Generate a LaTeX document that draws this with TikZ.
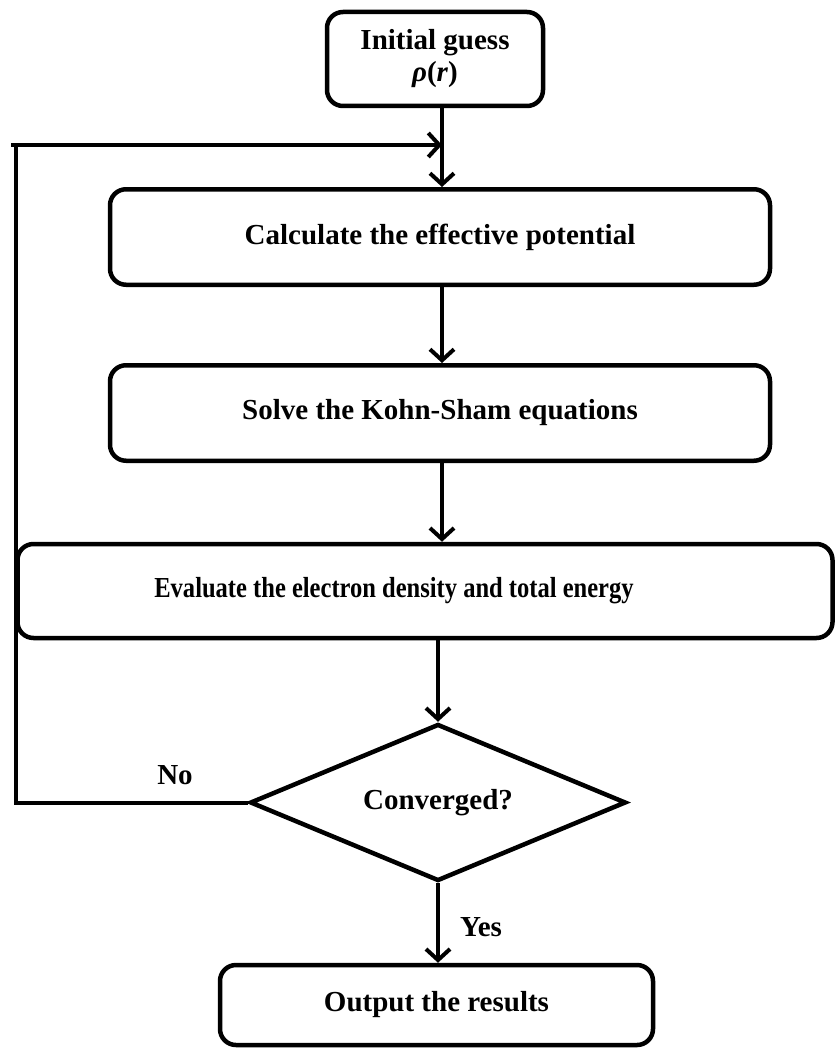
\documentclass[tikz,border=0pt]{standalone}
\usepackage{fontspec}
\setmainfont{Liberation Serif}
\usetikzlibrary{shapes.geometric,arrows.meta}
\begin{document}
\begin{tikzpicture}[x=1pt,y=-1pt,
  every node/.style={font=\fontsize{29}{33}\selectfont\bfseries},
  procbox/.style={draw,line width=4.5pt,rounded corners=16pt,inner sep=0pt},
  decide/.style={draw,diamond,line width=4.5pt,aspect=2.36,inner sep=0pt,minimum width=376pt,minimum height=157pt},
  flow/.style={line width=4pt,-{Straight Barb[length=11pt,width=24pt,line width=4pt]}},
  plain/.style={line width=4pt,line join=miter}]
\useasboundingbox (0,0) rectangle (835,1051);
\node[procbox,minimum width=216pt,minimum height=94pt,align=center] (init) at (435,59) {Initial guess\\[-1pt]\textit{ρ}(\textit{r})};
\node[procbox,minimum width=660pt,minimum height=95.5pt] (calc) at (440,237) {Calculate the effective potential};
\node[procbox,minimum width=660pt,minimum height=95.5pt] (solve) at (440,413) {Solve the Kohn-Sham equations};
\node[procbox,minimum width=815pt,minimum height=94pt] (eval) at (425,591) {\scalebox{0.846}[1]{Evaluate the electron density and total energy}\kern62pt\relax};
\node[decide] (dia) at (438,802.5) {Converged?};
\node[procbox,minimum width=433pt,minimum height=80pt] (out) at (436.5,1005) {Output the results};
\node[anchor=center] (no) at (175,775) {No};
\node[anchor=center] (yes) at (481,927) {Yes};
\coordinate (loopbl) at (16,802.5);
\coordinate (looptl) at (16,145);
\coordinate (loopin) at (442,145);
\draw[flow] (init.south -| loopin) -- (calc.north -| loopin);
\draw[flow] (calc.south -| loopin) -- (solve.north -| loopin);
\draw[flow] (solve.south -| loopin) -- (eval.north -| loopin);
\draw[flow] (eval.south -| dia.north) -- (dia.north);
\draw[flow] (dia.south) -- (out.north -| dia.south);
\draw[plain] (dia.west) -- (loopbl) -- (looptl) -- (11,145);
\draw[flow] (looptl) -- (loopin);
\end{tikzpicture}
\end{document}
